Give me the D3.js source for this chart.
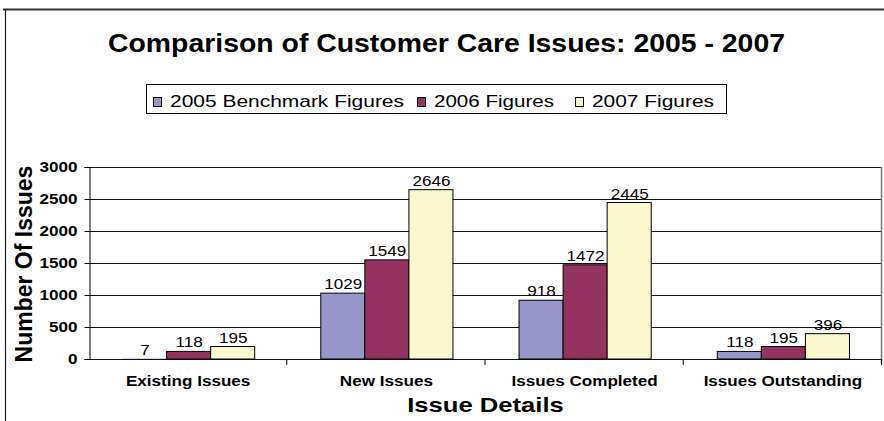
<!DOCTYPE html>
<html>
<head>
<meta charset="utf-8">
<script src="https://cdn.jsdelivr.net/npm/d3@7"></script>
<style>
    body { margin: 0; background: #fff; }
    svg { display: block; font-family: "Liberation Sans", Arial, sans-serif; }
</style>
</head>
<body>
<div id="chart"></div>
<script>
// chart data
var categories = ["Existing Issues", "New Issues", "Issues Completed", "Issues Outstanding"];
var seriesNames = ["2005 Benchmark Figures", "2006 Figures", "2007 Figures"];
var values2005 = [7, 1029, 918, 118];
var values2006 = [118, 1549, 1472, 195];
var values2007 = [195, 2646, 2445, 396];
var yTicks = [0, 500, 1000, 1500, 2000, 2500, 3000];
var seriesColors = ["#9796ca", "#953360", "#fbf8cf"];

// the source picture is a bit wider than tall, so stretch horizontal text
var stretch = 1.22;

function widen(sel, factor) {
    sel.each(function () {
        var len = this.getComputedTextLength();
        d3.select(this)
            .attr("textLength", len * factor)
            .attr("lengthAdjust", "spacingAndGlyphs");
    });
}

function drawChart() {
    var w = 884, h = 421;
    var plot = { left: 89, right: 882, top: 167, bottom: 359 };

    var svg = d3.select("#chart")
        .append("svg")
        .attr("width", w)
        .attr("height", h);

    var seriesValues = [values2005, values2006, values2007];

    // --- Scales ---
    var xScale = d3.scaleBand()
        .domain(categories)
        .range([plot.left, plot.right])
        .padding(0);

    var xInner = d3.scaleBand()
        .domain(seriesNames)
        .range([0, xScale.bandwidth()])
        .paddingInner(0)
        .paddingOuter(0.75);

    var yScale = d3.scaleLinear()
        .domain([0, 3000])
        .range([plot.bottom, plot.top]);

    var colorScale = d3.scaleOrdinal()
        .domain(seriesNames)
        .range(seriesColors);

    // --- page frame (cut off document edges) ---
    svg.append("line")
        .attr("x1", 3).attr("x2", w)
        .attr("y1", 9.5).attr("y2", 9.5)
        .attr("stroke", "#333")
        .attr("stroke-width", 2);
    svg.append("line")
        .attr("x1", 5.5).attr("x2", 5.5)
        .attr("y1", 9).attr("y2", h)
        .attr("stroke", "#222")
        .attr("stroke-width", 1.2);

    // --- Title ---
    svg.append("text")
        .attr("x", 446.5)
        .attr("y", 52)
        .attr("text-anchor", "middle")
        .attr("textLength", 677)
        .attr("lengthAdjust", "spacingAndGlyphs")
        .style("font-size", "26px")
        .style("font-weight", "bold")
        .text("Comparison of Customer Care Issues: 2005 - 2007");

    // --- Legend ---
    var legend = svg.append("g")
        .attr("transform", "translate(146,84)");

    legend.append("rect")
        .attr("x", 0.5).attr("y", 0.5)
        .attr("width", 580).attr("height", 29)
        .attr("fill", "#fff")
        .attr("stroke", "#000");

    var legendX = [7, 271, 429];
    var legendTextW = [234, 120, 122];
    var legendItem = legend.selectAll(".legend-item")
        .data(seriesNames)
        .enter().append("g")
        .attr("class", "legend-item")
        .attr("transform", (d, i) => `translate(${legendX[i]},0)`);

    legendItem.append("rect")
        .attr("x", 0.5).attr("y", 13.5)
        .attr("width", 8).attr("height", 9)
        .attr("fill", d => colorScale(d))
        .attr("stroke", "#000");

    legendItem.append("text")
        .attr("x", 17)
        .attr("y", 23)
        .attr("textLength", (d, i) => legendTextW[i])
        .attr("lengthAdjust", "spacingAndGlyphs")
        .style("font-size", "17px")
        .text(d => d);

    // --- Gridlines ---
    svg.append("g")
        .selectAll("line")
        .data(yTicks)
        .enter().append("line")
        .attr("x1", plot.left).attr("x2", plot.right)
        .attr("y1", d => Math.round(yScale(d)) + 0.5)
        .attr("y2", d => Math.round(yScale(d)) + 0.5)
        .attr("stroke", "#111")
        .attr("stroke-width", 1);

    // right edge of plot area
    svg.append("line")
        .attr("x1", plot.right - 0.5).attr("x2", plot.right - 0.5)
        .attr("y1", plot.top).attr("y2", plot.bottom + 5)
        .attr("stroke", "#777")
        .attr("stroke-width", 1.5);

    // --- Bars ---
    var groups = svg.append("g")
        .selectAll("g")
        .data(categories)
        .enter().append("g")
        .attr("transform", d => `translate(${xScale(d)},0)`);

    var cellData = (c, ci) => seriesNames.map((s, si) => ({ series: s, value: seriesValues[si][ci] }));

    groups.selectAll("rect")
        .data(cellData)
        .enter().append("rect")
        .attr("x", d => xInner(d.series) + 0.5)
        .attr("y", d => yScale(d.value))
        .attr("width", xInner.bandwidth())
        .attr("height", d => yScale(0) - yScale(d.value))
        .attr("fill", d => colorScale(d.series))
        .attr("stroke", d => d.value > 20 ? "#000" : "none")
        .attr("stroke-width", 1);

    groups.selectAll(".value-label")
        .data(cellData)
        .enter().append("text")
        .attr("class", "value-label")
        .attr("x", d => xInner(d.series) + xInner.bandwidth() / 2 + 1)
        .attr("y", d => yScale(d.value) - 4)
        .attr("text-anchor", "middle")
        .style("font-size", "14px")
        .text(d => d.value)
        .call(widen, stretch);

    // --- Axes ---
    var yAxis = svg.append("g")
        .attr("transform", `translate(${plot.left + 0.5},0)`)
        .call(d3.axisLeft(yScale).tickValues(yTicks).tickFormat(d3.format("d")).tickSize(5).tickPadding(7));
    yAxis.select(".domain").attr("stroke", "#000");
    yAxis.selectAll("text")
        .style("font-size", "14px")
        .style("font-weight", "bold")
        .style("font-family", "'Liberation Sans', Arial, sans-serif")
        .attr("fill", "#000")
        .call(widen, stretch);

    var xAxis = svg.append("g")
        .attr("transform", `translate(0,${Math.round(plot.bottom) + 0.5})`)
        .call(d3.axisBottom(xScale).tickSize(0).tickPadding(17));
    xAxis.select(".domain").remove();
    xAxis.selectAll("text")
        .style("font-size", "14px")
        .style("font-weight", "bold")
        .style("font-family", "'Liberation Sans', Arial, sans-serif")
        .attr("fill", "#000")
        .call(widen, stretch);

    // category boundary ticks
    svg.append("g")
        .selectAll("line")
        .data(categories)
        .enter().append("line")
        .attr("x1", d => xScale(d) + xScale.bandwidth() - 0.5)
        .attr("x2", d => xScale(d) + xScale.bandwidth() - 0.5)
        .attr("y1", plot.bottom)
        .attr("y2", plot.bottom + 6)
        .attr("stroke", "#000");

    // --- Axis titles ---
    svg.append("text")
        .attr("transform", `translate(32,${(plot.top + plot.bottom) / 2 + 1}) rotate(-90)`)
        .attr("text-anchor", "middle")
        .style("font-size", "23px")
        .style("font-weight", "bold")
        .text("Number Of Issues");

    svg.append("text")
        .attr("x", (plot.left + plot.right) / 2)
        .attr("y", 412)
        .attr("text-anchor", "middle")
        .style("font-size", "21px")
        .style("font-weight", "bold")
        .text("Issue Details")
        .call(widen, stretch);
}

drawChart();
</script>
</body>
</html>
